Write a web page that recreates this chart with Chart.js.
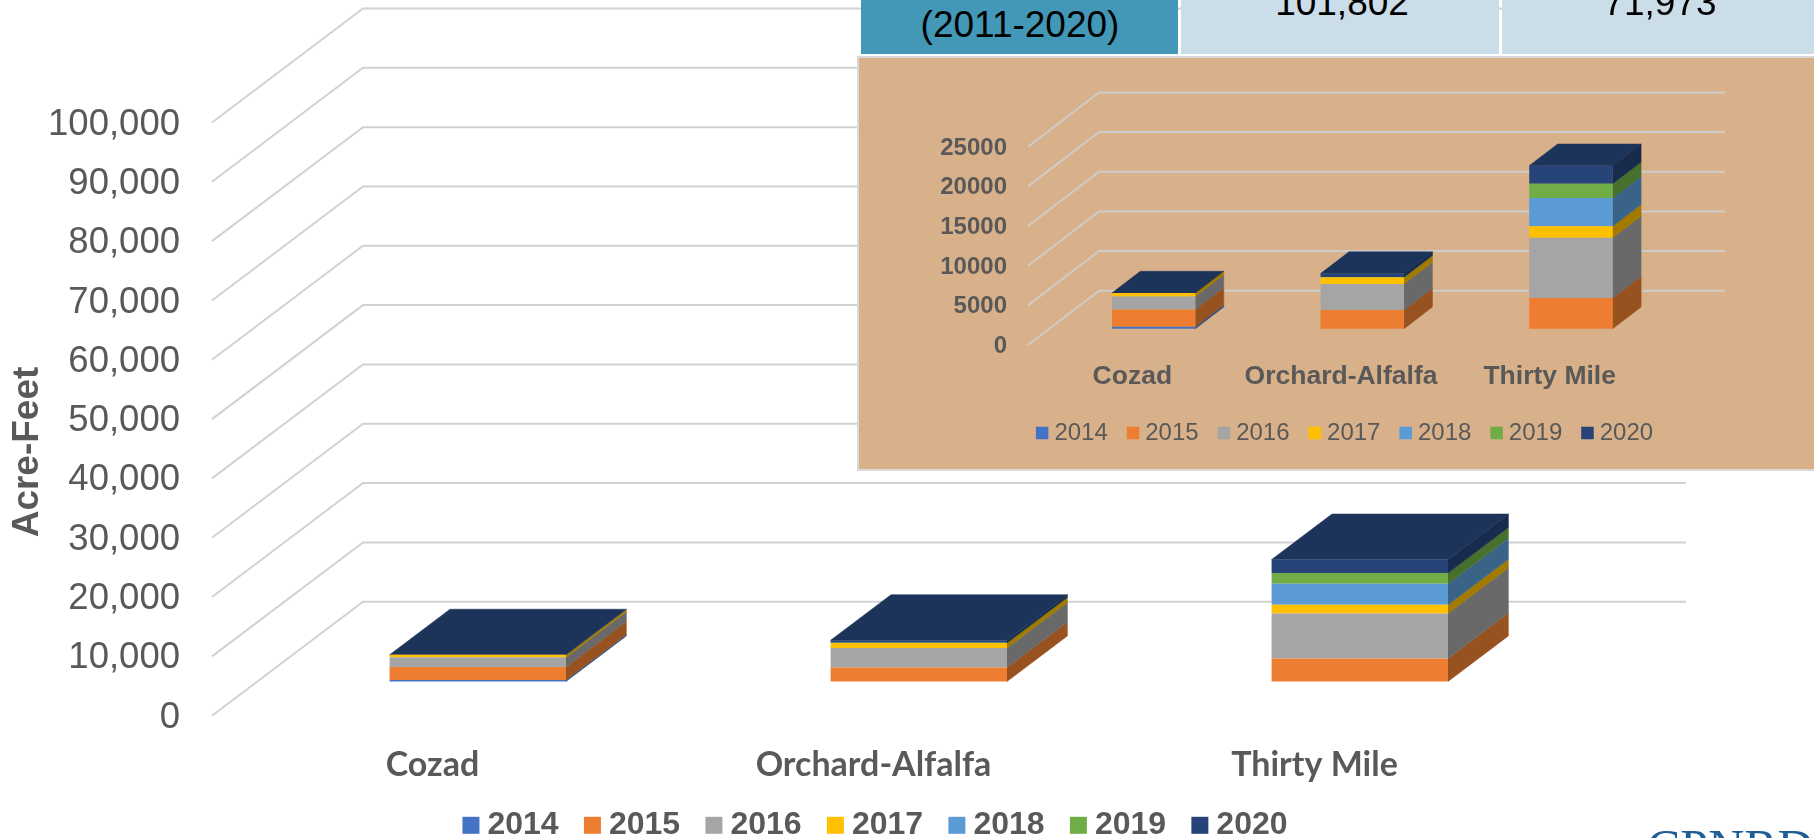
<!DOCTYPE html>
<html>
<head>
<meta charset="utf-8">
<title>Acre-Feet by canal</title>
<script src="https://cdn.jsdelivr.net/npm/chart.js@4"></script>
<style>
html,body{margin:0;padding:0;background:#fff;width:1814px;height:838px;overflow:hidden}
canvas{position:absolute;display:block}
#main{left:0;top:0}
#inset{left:859px;top:58px;background:#D8B18A;box-shadow:0 0 0 2px #D9D9D9}
.cell{position:absolute;top:0;height:54px;overflow:hidden;font:37px "Liberation Sans",Arial,sans-serif;color:#000}
.cell span{position:absolute;white-space:nowrap;transform:translateX(-50%)}
#logo{position:absolute;left:1647px;top:822px;width:167px;height:16px;overflow:hidden;font:50px "Liberation Serif",serif;color:#1F5F96;line-height:50px;white-space:nowrap}
</style>
</head>
<body>
<canvas id="main" width="1814" height="838"></canvas>
<div class="cell" style="left:861px;width:317px;background:#4298B6"><span style="left:159px;top:4px">(2011-2020)</span></div>
<div class="cell" style="left:1181px;width:318px;background:#CBDDE9"><span style="left:161px;top:-18px">101,802</span></div>
<div class="cell" style="left:1502px;width:312px;background:#CBDDE9"><span style="left:158px;top:-18px">71,973</span></div>
<canvas id="inset" width="955" height="411"></canvas>
<div id="logo">CPNRD</div>
<script>
const categories = ["Cozad", "Orchard-Alfalfa", "Thirty Mile"];
const years = ["2014", "2015", "2016", "2017", "2018", "2019", "2020"];
const v2014 = [250, 0, 0];
const v2015 = [2180, 2350, 3880];
const v2016 = [1640, 3300, 7600];
const v2017 = [430, 820, 1440];
const v2018 = [0, 0, 3550];
const v2019 = [0, 50, 1800];
const v2020 = [0, 430, 2280];
const seriesValues = [v2014, v2015, v2016, v2017, v2018, v2019, v2020];
const frontColors = ["#4472C4", "#ED7D31", "#A5A5A5", "#FFC000", "#5B9BD5", "#70AD47", "#264478"];
const sideColors = ["#2F4F88", "#97521F", "#696969", "#A37A00", "#3A6487", "#47702D", "#182B4D"];
const topColor = "#1C335A";

const depth3d = {
  id: "depth3d",
  beforeDraw(chart, args, o) {
    if (chart.legend) chart.legend.top = o.legendTop;
    chart.scales.y.getLabelItems().forEach(it => {
      if (!it.shifted) {
        it.options.translation[1] += o.tickShift;
        it.shifted = true;
      }
    });
  },
  beforeDatasetsDraw(chart, args, o) {
    const { ctx, chartArea: a, scales: { y } } = chart;
    ctx.save();
    ctx.strokeStyle = o.gridColor;
    ctx.lineWidth = o.gridWidth;
    y.ticks.forEach((t, i) => {
      const py = y.getPixelForTick(i);
      ctx.beginPath();
      ctx.moveTo(a.left, py);
      ctx.lineTo(a.left + o.dx, py - o.dy);
      ctx.lineTo(a.right + o.dx, py - o.dy);
      ctx.stroke();
    });
    const ox = o.dx * o.t0, oy = o.dy * o.t0;
    const ddx = o.dx * (o.t1 - o.t0), ddy = o.dy * (o.t1 - o.t0);
    const poly = (pts, col) => {
      ctx.fillStyle = col; ctx.strokeStyle = col; ctx.lineWidth = 0.5;
      ctx.beginPath();
      pts.forEach((p, i) => i ? ctx.lineTo(p[0] + ox, p[1] - oy) : ctx.moveTo(p[0] + ox, p[1] - oy));
      ctx.closePath(); ctx.fill(); ctx.stroke();
    };
    const n = chart.data.datasets.length;
    chart.data.labels.forEach((_, c) => {
      for (let d = 0; d < n; d++) {
        const b = chart.getDatasetMeta(d).data[c];
        const xr = b.x + b.width / 2;
        if (Math.abs(b.base - b.y) > 0.01) {
          poly([[xr, b.y], [xr + ddx, b.y - ddy], [xr + ddx, b.base - ddy], [xr, b.base]], sideColors[d]);
        }
      }
      const b = chart.getDatasetMeta(n - 1).data[c];
      const xl = b.x - b.width / 2, xr = b.x + b.width / 2;
      poly([[xl, b.y], [xl + ddx, b.y - ddy], [xr + ddx, b.y - ddy], [xr, b.y]], topColor);
    });
    ctx.restore();
  },
  beforeDatasetDraw(chart, args, o) {
    chart.ctx.save();
    chart.ctx.translate(o.dx * o.t0, -o.dy * o.t0);
  },
  afterDatasetDraw(chart) {
    chart.ctx.restore();
  },
  afterDraw(chart, args, o) {
    if (!o.axisTitle) return;
    const { ctx } = chart;
    ctx.save();
    ctx.translate(o.axisTitleX, o.axisTitleY);
    ctx.rotate(-Math.PI / 2);
    ctx.font = o.axisTitleFont;
    ctx.fillStyle = "#595959";
    ctx.textAlign = "center";
    ctx.textBaseline = "middle";
    ctx.fillText(o.axisTitle, 0, 0);
    ctx.restore();
  }
};

function build(id, s) {
  new Chart(document.getElementById(id), {
    type: "bar",
    data: {
      labels: categories,
      datasets: years.map((yr, i) => ({
        label: yr,
        data: seriesValues[i],
        backgroundColor: frontColors[i],
        borderWidth: 0,
        barPercentage: 0.4,
        categoryPercentage: 1,
        clip: false
      }))
    },
    plugins: [depth3d],
    options: {
      responsive: false,
      animation: false,
      layout: { padding: s.padding },
      scales: {
        x: {
          stacked: true,
          grid: { display: false, drawTicks: false },
          border: { display: false },
          ticks: { color: "#595959", font: s.xFont, padding: s.xPad, maxRotation: 0, autoSkip: false },
          afterFit: a => { a.height = s.xHeight; }
        },
        y: {
          stacked: true,
          min: 0, max: s.max,
          grid: { display: false, drawTicks: false },
          border: { display: false },
          ticks: { color: "#595959", font: s.yFont, padding: s.yPad, stepSize: s.step, callback: s.fmt },
          afterFit: a => { a.width = s.yWidth; }
        },
        spare: {
          position: "right",
          grid: { display: false, drawTicks: false },
          border: { display: false },
          ticks: { display: false },
          afterFit: a => { a.width = s.spareWidth; }
        }
      },
      plugins: {
        tooltip: { enabled: false },
        legend: {
          position: "bottom",
          labels: {
            color: "#595959",
            font: s.legendFont,
            boxWidth: s.boxW,
            boxHeight: s.boxW,
            padding: s.legendPad,
            generateLabels: c => c.data.datasets.map((d, i) => ({
              text: d.label,
              fillStyle: d.backgroundColor,
              strokeStyle: d.backgroundColor,
              fontColor: "#595959",
              lineWidth: s.boxStroke,
              datasetIndex: i
            }))
          }
        },
        depth3d: Object.assign({ gridColor: s.gridColor, gridWidth: s.gridWidth, legendTop: s.legendTop, tickShift: s.tickShift }, s.depth)
      }
    }
  });
}

build("main", {
  padding: { left: 0, top: 122.5, right: 56, bottom: -23 },
  xHeight: 70, yWidth: 212, spareWidth: 223,
  max: 100000, step: 10000,
  fmt: v => v.toLocaleString("en-US"),
  xFont: { family: "Lato", weight: "700", size: 34 }, xPad: 29,
  yFont: { family: "Liberation Sans", size: 36.5 }, yPad: 32, tickShift: 2,
  legendFont: { family: "Liberation Sans", weight: "700", size: 32 },
  boxW: 1, boxStroke: 16, legendPad: 33.3, legendTop: 776,
  gridColor: "#D2D2D2", gridWidth: 2,
  depth: { dx: 151, dy: 114, t0: 0.3, t1: 0.7,
    axisTitle: "Acre-Feet", axisTitleX: 28, axisTitleY: 452,
    axisTitleFont: "bold 37px 'Liberation Sans'" }
});

build("inset", {
  padding: { left: 22, top: 88.7, right: 0, bottom: -5 },
  xHeight: 70, yWidth: 147, spareWidth: 160,
  max: 25000, step: 5000,
  fmt: v => String(v),
  xFont: { family: "Liberation Sans", weight: "700", size: 26.5 }, xPad: 16,
  yFont: { family: "Liberation Sans", weight: "700", size: 24 }, yPad: 21, tickShift: 1.5,
  legendFont: { family: "Liberation Sans", size: 24 },
  boxW: 0.5, boxStroke: 12, legendPad: 25, legendTop: 338,
  gridColor: "#CCCCCC", gridWidth: 2,
  depth: { dx: 71, dy: 54.3, t0: 0.3, t1: 0.7 }
});
</script>
</body>
</html>
